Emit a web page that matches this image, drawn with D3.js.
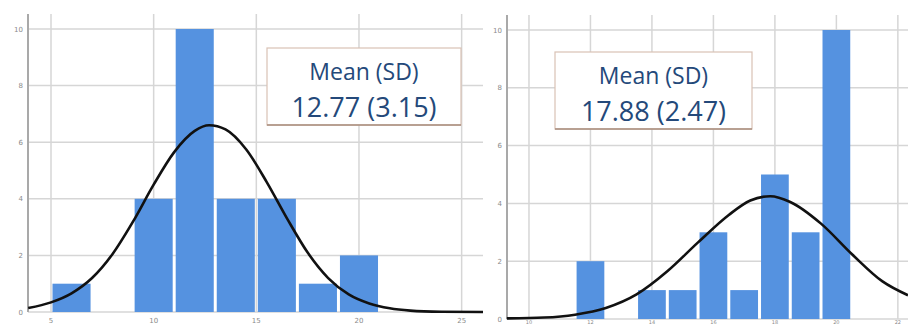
<!DOCTYPE html>
<html>
<head>
<meta charset="utf-8">
<script src="https://cdn.jsdelivr.net/npm/d3@7"></script>
<style>
  body { margin: 0; background: #fff; }
  svg { display: block; }
</style>
</head>
<body>
<svg id="chart" width="908" height="324"></svg>
<script>
// Two histograms with fitted normal curves

const yTicks = [0, 2, 4, 6, 8, 10];

// left panel
const leftXTicks = [5, 10, 15, 20, 25];
const leftBinStart = [5, 9, 11, 13, 15, 17, 19];
const leftBinWidth = 2;
const leftCounts = [1, 4, 10, 4, 4, 1, 2];
const leftCurveX = [3.89, 5, 6, 7, 8, 9, 10, 11, 12, 12.7, 13.5, 14.5, 15.5, 16.5, 17.5, 18.5, 19.5, 20.5, 21.5, 22.5, 24, 26.04];
const leftCurveY = [0.14, 0.34, 0.66, 1.2, 2.05, 3.2, 4.5, 5.65, 6.4, 6.6, 6.45, 5.75, 4.6, 3.3, 2.1, 1.2, 0.62, 0.3, 0.13, 0.05, 0.01, 0];
const leftLabel = ["Mean (SD)", "12.77 (3.15)"];

// right panel
const rightXTicks = [10, 12, 14, 16, 18, 20, 22];
const rightBinStart = [11.5, 13.5, 14.5, 15.5, 16.5, 17.5, 18.5, 19.5];
const rightBinWidth = 1;
const rightCounts = [2, 1, 1, 3, 1, 5, 3, 10];
const rightCurveX = [9.28, 10.5, 11.5, 12.5, 13.5, 14.5, 15.5, 16.5, 17.2, 17.85, 18.5, 19.5, 20.5, 21.5, 22.33];
const rightCurveY = [0.02, 0.05, 0.15, 0.38, 0.85, 1.65, 2.65, 3.6, 4.1, 4.25, 4.05, 3.3, 2.25, 1.3, 0.82];
const rightLabel = ["Mean (SD)", "17.88 (2.47)"];

const svg = d3.select("#chart");

const panels = [
  {
    x: d3.scaleLinear().domain([3.88, 26.04]).range([28, 483]),
    y: d3.scaleLinear().domain([0, 10]).range([312, 29]),
    top: 14, xTicks: leftXTicks, labelY: 323, labelSize: 7,
    binStart: leftBinStart, binWidth: leftBinWidth, counts: leftCounts,
    cx: leftCurveX, cy: leftCurveY, label: leftLabel,
    box: { x: 267, y: 48, w: 194, h: 77 }
  },
  {
    x: d3.scaleLinear().domain([9.285, 22.33]).range([507, 908]),
    y: d3.scaleLinear().domain([0, 10]).range([319, 30]),
    top: 15, xTicks: rightXTicks, labelY: 323.5, labelSize: 5,
    binStart: rightBinStart, binWidth: rightBinWidth, counts: rightCounts,
    cx: rightCurveX, cy: rightCurveY, label: rightLabel,
    box: { x: 555, y: 52, w: 197, h: 77 }
  }
];

panels.forEach(p => {
  const g = svg.append("g");
  const [x0, x1] = p.x.range();
  const bottom = p.y(0);

  // grid
  g.selectAll("line.hgrid")
    .data(yTicks)
    .join("line")
    .attr("x1", x0).attr("x2", x1)
    .attr("y1", d => p.y(d)).attr("y2", d => p.y(d))
    .attr("stroke", "#d6d6d6").attr("stroke-width", 1.5);

  g.selectAll("line.vgrid")
    .data(p.xTicks)
    .join("line")
    .attr("x1", d => p.x(d)).attr("x2", d => p.x(d))
    .attr("y1", p.top).attr("y2", bottom)
    .attr("stroke", "#d6d6d6").attr("stroke-width", 1.5);

  // axis line
  g.append("line")
    .attr("x1", x0).attr("x2", x0)
    .attr("y1", p.top).attr("y2", bottom)
    .attr("stroke", "#a9a9a9").attr("stroke-width", 2);

  // tick labels
  g.selectAll("text.ytick")
    .data(yTicks)
    .join("text")
    .attr("x", x0 - 5)
    .attr("y", d => p.y(d) + 2.5)
    .attr("text-anchor", "end")
    .style("font-family", "DejaVu Sans, sans-serif")
    .style("font-size", "7px")
    .style("fill", "#8a8a8a")
    .text(d => d);

  g.selectAll("text.xtick")
    .data(p.xTicks)
    .join("text")
    .attr("x", d => p.x(d))
    .attr("y", p.labelY)
    .attr("text-anchor", "middle")
    .style("font-family", "DejaVu Sans, sans-serif")
    .style("font-size", p.labelSize + "px")
    .style("fill", "#8a8a8a")
    .text(d => d);

  // bars
  const bars = p.binStart.map((s, i) => ({ s, e: s + p.binWidth, n: p.counts[i] }));
  g.selectAll("rect.bar")
    .data(bars)
    .join("rect")
    .attr("x", d => p.x(d.s) + 1.5)
    .attr("width", d => p.x(d.e) - p.x(d.s) - 3)
    .attr("y", d => p.y(d.n))
    .attr("height", d => bottom - p.y(d.n))
    .attr("fill", "#5592e0");

  // fitted curve
  const pts = p.cx.map((v, i) => [v, p.cy[i]]);
  g.append("path")
    .datum(pts)
    .attr("d", d3.line().x(d => p.x(d[0])).y(d => p.y(d[1])).curve(d3.curveMonotoneX))
    .attr("fill", "none")
    .attr("stroke", "#111")
    .attr("stroke-width", 2.6);

  // mean/sd box
  const b = p.box;
  g.append("rect")
    .attr("x", b.x).attr("y", b.y)
    .attr("width", b.w).attr("height", b.h)
    .attr("fill", "#fff")
    .attr("stroke", "#d9c2b5").attr("stroke-width", 1.2);
  g.append("line")
    .attr("x1", b.x).attr("x2", b.x + b.w)
    .attr("y1", b.y + b.h).attr("y2", b.y + b.h)
    .attr("stroke", "#a88c7c").attr("stroke-width", 1.5);

  g.append("text")
    .attr("x", b.x + b.w / 2)
    .attr("y", b.y + 32)
    .attr("text-anchor", "middle")
    .style("font-family", "Open Sans, sans-serif")
    .style("font-size", "23px")
    .style("fill", "#24497a")
    .text(p.label[0]);
  g.append("text")
    .attr("x", b.x + b.w / 2)
    .attr("y", b.y + 69)
    .attr("text-anchor", "middle")
    .style("font-family", "Open Sans, sans-serif")
    .style("font-size", "27px")
    .style("fill", "#24497a")
    .text(p.label[1]);
});
</script>
</body>
</html>
